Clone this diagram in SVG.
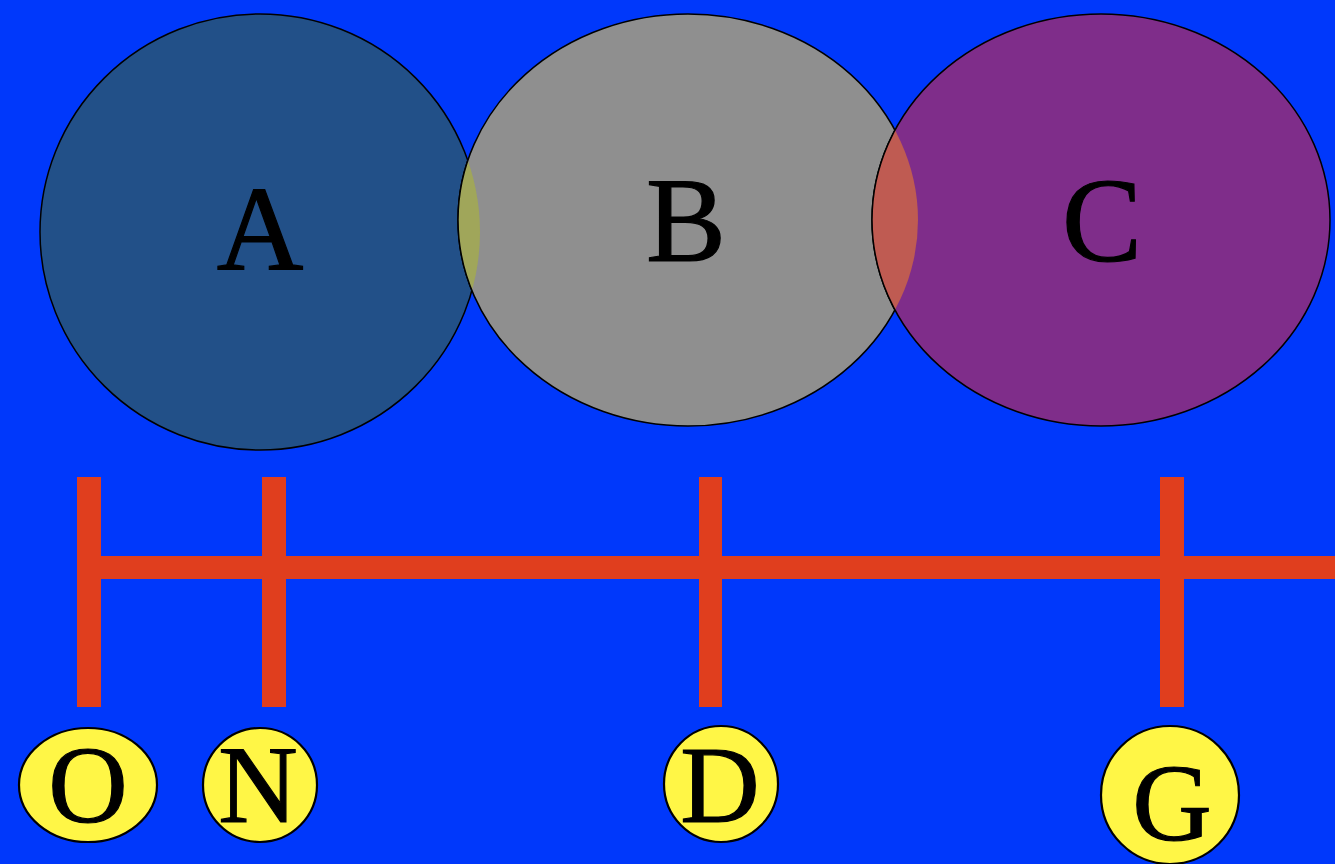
<svg xmlns="http://www.w3.org/2000/svg" width="1335" height="864" viewBox="0 0 1335 864">
<style>
.big{stroke:#000;stroke-width:1.5}
.lbl{font-family:'Liberation Serif','Times New Roman',Times,serif;fill:#000;stroke:#000;stroke-width:1.2;text-anchor:middle}
.bar{fill:#e03e1e}
.leaf{fill:#fff646;stroke:#000;stroke-width:2.2}
</style>
<defs>
<clipPath id="clipA"><ellipse cx="260" cy="232" rx="220" ry="218"/></clipPath>
<clipPath id="clipB"><ellipse cx="688" cy="220" rx="230" ry="206"/></clipPath>
</defs>
<rect width="1335" height="864" fill="#0038fb"/>
<g id="nodeA"><ellipse class="big" cx="260" cy="232" rx="220" ry="218" fill="#225088"/></g>
<g id="nodeB"><ellipse class="big" cx="688" cy="220" rx="230" ry="206" fill="#8f8f8f"/></g>
<g id="nodeC"><ellipse class="big" cx="1101" cy="220" rx="229" ry="206" fill="#7f2d8a"/></g>
<g id="overlaps">
<ellipse cx="688" cy="220" rx="230" ry="206" fill="#a0a65a" clip-path="url(#clipA)"/>
<ellipse cx="688" cy="220" rx="230" ry="206" fill="none" stroke="#000" stroke-width="1.5" clip-path="url(#clipA)"/>
<ellipse cx="1101" cy="220" rx="229" ry="206" fill="#bf5b52" clip-path="url(#clipB)"/>
<ellipse cx="1101" cy="220" rx="229" ry="206" fill="none" stroke="#000" stroke-width="1.5" clip-path="url(#clipB)"/>
</g>
<g id="labels-big">
<text class="lbl" x="260" y="270" font-size="120" font-family="Liberation Serif, serif">A</text>
<text class="lbl" x="686" y="261" font-size="120">B</text>
<text class="lbl" x="1102" y="261" font-size="120">C</text>
</g>
<g id="connectors">
<rect class="bar" x="77" y="556" width="1258" height="23"/>
<rect class="bar" x="77" y="477" width="24" height="230"/>
<rect class="bar" x="262" y="477" width="24" height="230"/>
<rect class="bar" x="699" y="477" width="23" height="230"/>
<rect class="bar" x="1160" y="477" width="24" height="230"/>
</g>
<g id="nodeO"><ellipse class="leaf" cx="88" cy="785" rx="69" ry="57"/><text class="lbl" x="88" y="822" font-size="110">O</text></g>
<g id="nodeN"><ellipse class="leaf" cx="260" cy="785" rx="57" ry="57"/><text class="lbl" x="258" y="822" font-size="110">N</text></g>
<g id="nodeD"><ellipse class="leaf" cx="721" cy="784" rx="57" ry="58"/><text class="lbl" x="720" y="822" font-size="110">D</text></g>
<g id="nodeG"><ellipse class="leaf" cx="1170" cy="795" rx="69" ry="69"/><text class="lbl" x="1172" y="840" font-size="110">G</text></g>
</svg>
